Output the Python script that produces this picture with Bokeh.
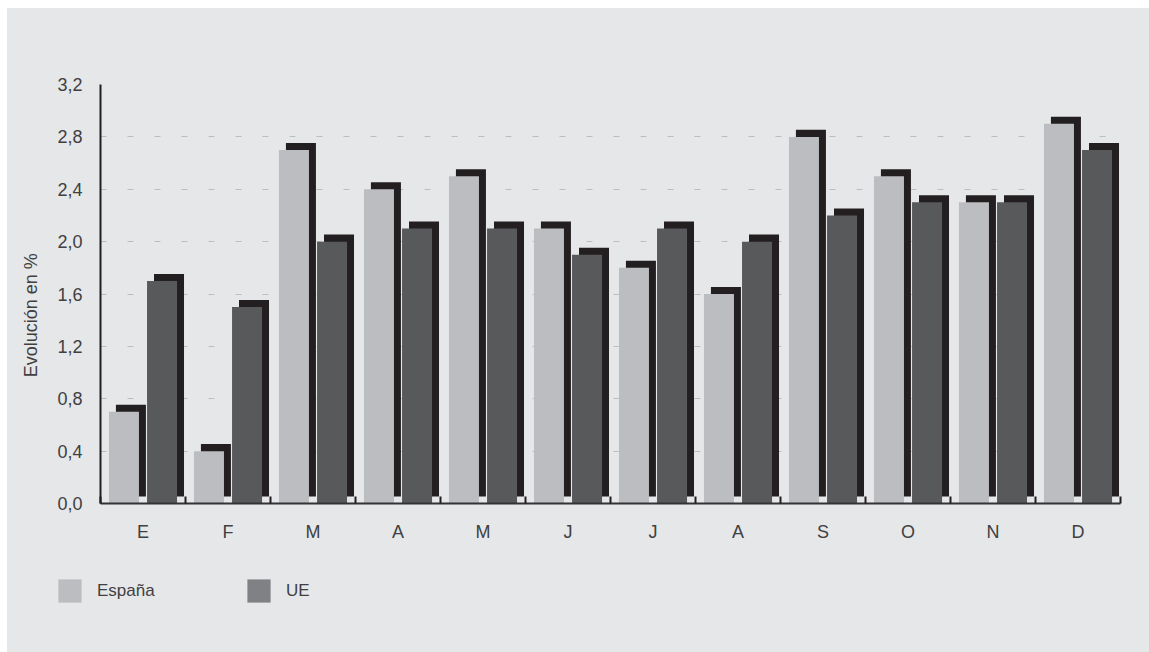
import numpy as np
from bokeh.plotting import figure
from bokeh.layouts import column, row
from bokeh.models import (ColumnDataSource, Range1d, FixedTicker, CustomJSTickFormatter,
                          Legend, LegendItem, Label)
from bokeh.embed import file_html
from bokeh.resources import INLINE

months = ["E", "F", "M", "A", "M", "J", "J", "A", "S", "O", "N", "D"]
espana = [0.7, 0.4, 2.7, 2.4, 2.5, 2.1, 1.8, 1.6, 2.8, 2.5, 2.3, 2.9]
ue = [1.7, 1.5, 2.0, 2.1, 2.1, 1.9, 2.1, 2.0, 2.2, 2.3, 2.3, 2.7]
y_ticks = [0.0, 0.4, 0.8, 1.2, 1.6, 2.0, 2.4, 2.8, 3.2]
series_names = ["España", "UE"]
y_title = "Evolución en %"

BG = "#E6E7E8"
C_ES = "#BCBDC0"
C_UE = "#58595B"
C_UE_LEG = "#808184"
C_SH = "#231F20"
TXT = "#404042"
FONT = "Liberation Sans"

TOTAL_W = 1142
LAB_W = 45
TOP_H = 550
LEG_H = 94

# ---- main chart ----
p = figure(width=TOTAL_W - LAB_W, height=TOP_H, output_backend="svg", toolbar_location=None,
           x_range=Range1d(0, 12), y_range=Range1d(0, 3.2),
           min_border_left=48, min_border_right=29, min_border_top=76, min_border_bottom=55,
           background_fill_color=BG, border_fill_color=BG, outline_line_color=None)

idx = np.arange(len(months))
bw = 0.353
off = 0.224
sx = 0.082   # shadow shift (x, data units)
sy = 0.0535  # shadow shift (y, data units)
src = ColumnDataSource(dict(
    xe=idx + 0.5 - off, xu=idx + 0.5 + off,
    xes=idx + 0.5 - off + sx, xus=idx + 0.5 + off + sx,
    es=espana, ue=ue,
    ess=np.array(espana) + sy, ues=np.array(ue) + sy,
))

# shadows
p.vbar(x="xes", top="ess", bottom=sy, width=bw, source=src, fill_color=C_SH, line_color=None)
p.vbar(x="xus", top="ues", bottom=sy, width=bw, source=src, fill_color=C_SH, line_color=None)
# bars
p.vbar(x="xe", top="es", bottom=0, width=bw, source=src, fill_color=C_ES, line_color=None)
p.vbar(x="xu", top="ue", bottom=0, width=bw, source=src, fill_color=C_UE, line_color=None)

p.xgrid.visible = False
p.ygrid.grid_line_color = "#BCBEC0"
p.ygrid.grid_line_width = 1
p.ygrid.grid_line_dash = "6 21"
p.ygrid.ticker = FixedTicker(ticks=y_ticks)

p.yaxis.ticker = FixedTicker(ticks=y_ticks)
p.yaxis.formatter = CustomJSTickFormatter(code="return tick.toFixed(1).replace('.', ',');")
p.yaxis.major_tick_line_color = None
p.yaxis.minor_tick_line_color = None
p.yaxis.axis_line_color = C_SH
p.yaxis.axis_line_width = 2
p.yaxis.major_label_standoff = 12
p.yaxis.major_label_text_font = FONT
p.yaxis.major_label_text_font_size = "18px"
p.yaxis.major_label_text_color = TXT

p.xaxis.ticker = FixedTicker(ticks=list(idx + 0.5), minor_ticks=list(range(13)))
p.xaxis.formatter = CustomJSTickFormatter(args=dict(labels=months),
                                          code="return labels[Math.floor(tick)];")
p.xaxis.major_tick_line_color = None
p.xaxis.minor_tick_in = 7
p.xaxis.minor_tick_out = 0
p.xaxis.minor_tick_line_color = C_SH
p.xaxis.minor_tick_line_width = 2
p.xaxis.axis_line_color = "#333335"
p.xaxis.axis_line_width = 2
p.xaxis.major_label_standoff = 12
p.xaxis.major_label_text_font = FONT
p.xaxis.major_label_text_font_size = "18px"
p.xaxis.major_label_text_color = TXT

# ---- y title strip ----
lab = figure(width=LAB_W, height=TOP_H, output_backend="svg", toolbar_location=None,
             x_range=Range1d(0, LAB_W), y_range=Range1d(0, TOP_H),
             x_axis_type=None, y_axis_type=None,
             min_border_left=0, min_border_right=0, min_border_top=0, min_border_bottom=0,
             background_fill_color=BG, border_fill_color=BG, outline_line_color=None)
lab.xgrid.visible = False
lab.ygrid.visible = False
lab.add_layout(Label(x=23, y=247, text=y_title, angle=np.pi / 2,
                     text_align="center", text_baseline="middle",
                     text_font=FONT, text_font_size="18px", text_color=TXT))

# ---- legend strip ----
leg = figure(width=TOTAL_W, height=LEG_H, output_backend="svg", toolbar_location=None,
             x_range=Range1d(0, 1), y_range=Range1d(0, 1),
             x_axis_type=None, y_axis_type=None,
             min_border_left=0, min_border_right=0, min_border_top=0, min_border_bottom=0,
             background_fill_color=BG, border_fill_color=BG, outline_line_color=None)
leg.xgrid.visible = False
leg.ygrid.visible = False
# legend proxies: one off-screen placeholder each, only their swatches are shown
proxy = ColumnDataSource(dict(x=[-10.0], top=[0.0]))
r_es = leg.vbar(x="x", top="top", width=0.1, source=proxy, fill_color=C_ES, line_color=None)
r_ue = leg.vbar(x="x", top="top", width=0.1, source=proxy, fill_color=C_UE_LEG, line_color=None)
legend = Legend(items=[LegendItem(label=series_names[0], renderers=[r_es]),
                       LegendItem(label=series_names[1], renderers=[r_ue])],
                orientation="horizontal", location=(48, 47),
                glyph_width=29, glyph_height=29, label_standoff=13,
                label_width=147, spacing=0, padding=0, margin=0,
                border_line_color=None, background_fill_alpha=0,
                label_text_font=FONT, label_text_font_size="17px", label_text_color=TXT)
leg.add_layout(legend, "center")

layout = column(row(lab, p, spacing=0, styles={"background-color": BG}), leg,
                spacing=0, margin=(8, 0, 0, 7), styles={"background-color": BG})

open("out.html", "w").write(file_html(layout, INLINE))
